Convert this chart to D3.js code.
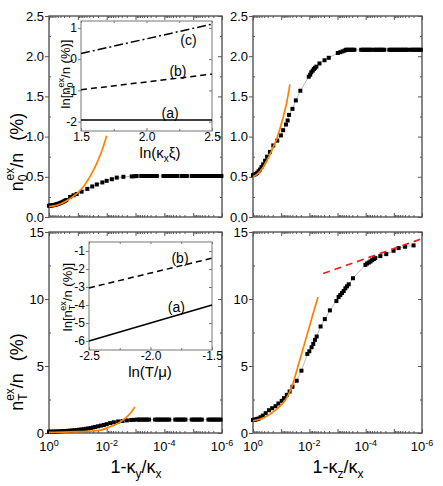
<!DOCTYPE html>
<html lang="en">
<head>
<meta charset="utf-8">
<script src="https://cdn.jsdelivr.net/npm/d3@7"></script>
<style>
  body{ margin:0; background:#fff; }
  text{ font-family:"Liberation Sans", Arial, sans-serif; fill:#000; }
</style>
</head>
<body>
<script>
var width = 443, height = 486;

// x values are decades: point sits at 1-kappa = 10^-dec
var decades = [0, 1, 2, 3, 4, 5, 6];
var xLabelDecades = [0, 2, 4, 6];

// top-left: n0ex/n vs 1-ky/kx
var tlPts = [[0,0.140],[0.04,0.141],[0.08,0.143],[0.12,0.145],[0.16,0.148],[0.2,0.151],[0.24,0.155],[0.28,0.159],
  [0.32,0.164],[0.36,0.169],[0.4,0.175],[0.44,0.181],[0.48,0.188],[0.52,0.195],[0.56,0.203],[0.6,0.211],
  [0.73,0.25],[0.85,0.27],[0.96,0.286],[1.13,0.315],[1.33,0.35],[1.5,0.38],[1.66,0.405],[1.85,0.43],
  [2.0,0.45],[2.18,0.47],[2.35,0.49],[2.58,0.50],[2.87,0.505],[2.97,0.507],[3.04,0.51],
  [3.2,0.51],[3.26,0.51],[3.32,0.51],[3.38,0.51],[3.44,0.51],[3.5,0.51],[3.56,0.51],[3.62,0.51],[3.68,0.51],[3.74,0.51],
  [3.97,0.51],[4.03,0.51],[4.09,0.51],[4.15,0.51],[4.21,0.51],[4.27,0.51],[4.33,0.51],[4.39,0.51],[4.45,0.51],
  [4.6,0.51],[4.66,0.51],[4.72,0.51],[4.78,0.51],
  [4.95,0.51],[5.0,0.51],[5.05,0.51],[5.1,0.51],[5.15,0.51],[5.2,0.51],[5.25,0.51],[5.3,0.51],[5.36,0.51],[5.42,0.51],
  [5.53,0.51],[5.58,0.51],[5.63,0.51],[5.68,0.51],[5.73,0.51],[5.78,0.51],[5.83,0.51],[5.88,0.51],[5.93,0.51],[5.98,0.51]];
var tlFit = [[0,0.13],[0.3,0.15],[0.6,0.2],[0.96,0.29],[1.2,0.38],[1.45,0.52],[1.66,0.67],[1.85,0.84],[2.0,1.01]];

// top-right: n0ex/n vs 1-kz/kx
var trPts = [[0,0.52],[0.05,0.525],[0.1,0.535],[0.15,0.55],[0.2,0.57],[0.25,0.59],[0.3,0.62],[0.36,0.655],
  [0.43,0.70],[0.5,0.75],[0.6,0.81],[0.72,0.89],[0.86,0.95],[0.99,1.015],[1.07,1.08],[1.17,1.15],[1.23,1.2],
  [1.28,1.27],[1.4,1.345],[1.52,1.45],[1.68,1.57],[1.98,1.745],[2.03,1.77],[2.07,1.80],[2.12,1.82],[2.16,1.84],
  [2.2,1.855],[2.25,1.87],[2.36,1.91],[2.54,1.95],[2.69,1.98],[3.01,2.04],[3.1,2.05],[3.18,2.06],[3.25,2.07],
  [3.3,2.08],[3.36,2.08],[3.42,2.08],[3.48,2.08],[3.54,2.08],[3.6,2.08],
  [3.84,2.08],[3.9,2.08],[3.96,2.08],[4.02,2.08],[4.08,2.08],[4.14,2.08],[4.2,2.08],
  [4.3,2.08],[4.36,2.08],[4.42,2.08],[4.48,2.08],[4.54,2.08],[4.6,2.08],[4.66,2.08],
  [4.84,2.08],[4.9,2.08],[4.96,2.08],[5.02,2.08],[5.08,2.08],[5.14,2.08],[5.2,2.08],[5.26,2.08],[5.32,2.08],[5.38,2.08],[5.44,2.08],[5.49,2.08],
  [5.6,2.08],[5.66,2.08],[5.72,2.08],[5.78,2.08],[5.84,2.08],[5.9,2.08],[5.96,2.08]];
var trFit = [[0,0.5],[0.2,0.55],[0.36,0.62],[0.55,0.74],[0.72,0.87],[0.84,0.97],[0.96,1.1],[1.07,1.24],[1.2,1.43],[1.31,1.65]];

// bottom-left: nTex/n vs 1-ky/kx
var blPts = [[0,0.10],[0.08,0.105],[0.16,0.11],[0.24,0.115],[0.32,0.12],[0.4,0.13],[0.48,0.14],[0.56,0.15],
  [0.64,0.16],[0.72,0.175],[0.8,0.19],[0.88,0.205],[0.96,0.22],[1.04,0.24],[1.12,0.26],[1.2,0.28],[1.28,0.31],
  [1.36,0.34],[1.44,0.37],[1.52,0.41],[1.6,0.45],[1.7,0.5],[1.8,0.55],[1.9,0.6],[2.0,0.66],[2.12,0.74],
  [2.25,0.8],[2.4,0.86],[2.55,0.9],[2.7,0.94],[2.85,0.97],[2.93,0.98],
  [3.05,1.0],[3.12,1.0],[3.19,1.0],[3.26,1.0],[3.33,1.0],[3.4,1.0],[3.47,1.0],
  [3.68,1.0],[3.75,1.0],[3.82,1.0],[3.89,1.0],[3.96,1.0],[4.03,1.0],[4.1,1.0],[4.17,1.0],
  [4.38,1.0],[4.45,1.0],[4.52,1.0],[4.59,1.0],[4.66,1.0],[4.73,1.0],
  [4.95,1.0],[5.02,1.0],[5.09,1.0],[5.16,1.0],[5.23,1.0],[5.3,1.0],
  [5.53,1.0],[5.6,1.0],[5.67,1.0],[5.74,1.0],[5.81,1.0],[5.88,1.0],[5.95,1.0]];
var blFit = [[0,0.05],[0.5,0.07],[1.0,0.1],[1.5,0.15],[1.8,0.22],[2.1,0.45],[2.3,0.62],[2.5,0.87],[2.7,1.2],[2.85,1.55],[2.98,1.95]];

// bottom-right: nTex/n vs 1-kz/kx
var brPts = [[0,0.97],[0.04,0.98],[0.08,1.0],[0.12,1.02],[0.16,1.05],[0.2,1.08],[0.27,1.18],[0.35,1.3],
  [0.45,1.48],[0.57,1.7],[0.68,1.85],[0.8,2.0],[0.9,2.2],[1.02,2.4],[1.1,2.6],[1.2,2.85],[1.3,3.1],[1.4,3.45],
  [1.55,3.9],[1.72,4.65],[1.93,5.9],[2.0,6.1],[2.08,6.4],[2.14,6.65],[2.2,6.95],[2.26,7.2],[2.4,7.95],
  [2.55,8.5],[2.73,9.15],[2.96,9.85],[3.04,10.15],[3.1,10.3],[3.16,10.45],[3.22,10.6],[3.28,10.8],[3.34,10.95],
  [3.4,11.1],[3.55,11.55],[3.99,12.55],[4.05,12.65],[4.11,12.72],[4.17,12.8],[4.23,12.9],[4.29,12.98],
  [4.34,13.05],[4.52,13.2],[4.73,13.35],[4.99,13.6],[5.17,13.8],[5.4,13.9],[5.7,14.0]];
var brFit = [[0,0.9],[0.4,1.15],[0.8,1.7],[1.0,2.1],[1.22,2.7],[1.4,3.6],[1.58,4.85],[1.75,6.1],[1.93,7.4],[2.12,8.8],[2.31,10.15]];
var brAsym = [[2.49,11.9],[6.0,14.5]];

// insets
var inTopX = [1.5, 2.5];
var inTopA = [-1.95, -1.95];
var inTopB = [-0.98, -0.48];
var inTopC = [0.18, 1.12];
var inBotX = [-2.5, -1.5];
var inBotA = [-6.0, -4.0];
var inBotB = [-3.05, -1.4];

var svg = d3.select("body").append("svg")
    .attr("width", width)
    .attr("height", height);

var frameColor = "#555";
var orange = "#ff8000";
// plain hyphen instead of the unicode minus d3 puts in
function hy(f){ return function(d){ return f(d).replace("\u2212", "-"); }; }

function panel(c){
    var x = d3.scaleLog().domain([1, 1e-6]).range([c.left, c.right]);
    var y = d3.scaleLinear().domain(c.yDomain).range([c.bottom, c.top]);
    var px = function(d){ return x(Math.pow(10, -d[0])); };
    var py = function(d){ return y(d[1]); };
    var g = svg.append("g");

    var majors = decades.map(function(d){ return Math.pow(10, -d); });
    var minors = x.ticks().filter(function(v){
        return majors.every(function(m){ return Math.abs(v / m - 1) > 1e-6; });
    });

    function ax(axis, tx, ty){
        var a = g.append("g").attr("transform", "translate(" + tx + "," + ty + ")").call(axis);
        a.select(".domain").remove();
        a.selectAll(".tick line").attr("stroke", frameColor).attr("stroke-width", 1);
        a.selectAll(".tick text").style("font-size", "13px").style("font-family", "Liberation Sans, Arial, sans-serif").attr("fill", "#000");
        return a;
    }
    ax(d3.axisBottom(x).tickValues(majors).tickSize(-4).tickFormat(""), 0, c.bottom);
    ax(d3.axisBottom(x).tickValues(minors).tickSize(-2).tickFormat(""), 0, c.bottom);
    ax(d3.axisTop(x).tickValues(majors).tickSize(-4).tickFormat(""), 0, c.top);
    ax(d3.axisTop(x).tickValues(minors).tickSize(-2).tickFormat(""), 0, c.top);
    ax(d3.axisLeft(y).tickValues(c.yMajor).tickSize(4).tickPadding(1).tickFormat(c.yFmt), c.left, 0);
    ax(d3.axisLeft(y).tickValues(c.yMinor).tickSize(-2).tickFormat(""), c.left, 0);
    ax(d3.axisRight(y).tickValues(c.yMajor).tickSize(-4).tickFormat(""), c.right, 0);
    ax(d3.axisRight(y).tickValues(c.yMinor).tickSize(-2).tickFormat(""), c.right, 0);

    g.append("rect")
        .attr("x", c.left).attr("y", c.top)
        .attr("width", c.right - c.left).attr("height", c.bottom - c.top)
        .attr("fill", "none").attr("stroke", frameColor).attr("stroke-width", 1.4);

    if (c.xLabels){
        xLabelDecades.forEach(function(d){
            var t = g.append("text")
                .attr("x", x(Math.pow(10, -d)))
                .attr("y", c.bottom + 18)
                .attr("text-anchor", "middle")
                .style("font-size", "13px");
            t.append("tspan").text("10");
            t.append("tspan").attr("dy", -5).style("font-size", "9px").text(d === 0 ? "0" : "-" + d);
        });
    }

    // thin grey line through the points
    g.append("path")
        .datum(c.pts)
        .attr("d", d3.line().x(px).y(py))
        .attr("fill", "none").attr("stroke", "#aaa").attr("stroke-width", 0.8);

    g.selectAll(".pt")
        .data(c.pts)
        .enter()
        .append("rect")
        .attr("class", "pt")
        .attr("x", function(d){ return px(d) - 2; })
        .attr("y", function(d){ return py(d) - 2; })
        .attr("width", 4).attr("height", 4)
        .attr("fill", "#000");

    g.append("path")
        .datum(c.fit)
        .attr("d", d3.line().curve(d3.curveMonotoneX).x(px).y(py))
        .attr("fill", "none").attr("stroke", orange).attr("stroke-width", 1.7);

    if (c.asym){
        g.append("path")
            .datum(c.asym)
            .attr("d", d3.line().x(px).y(py))
            .attr("fill", "none").attr("stroke", "#ee1c1c").attr("stroke-width", 1.7)
            .attr("stroke-dasharray", "7,5");
    }
    return {x: x, y: y};
}

function inset(c){
    var x = d3.scaleLinear().domain(c.xDomain).range([c.left, c.right]);
    var y = d3.scaleLinear().domain(c.yDomain).range([c.bottom, c.top]);
    var g = svg.append("g");
    g.append("rect")
        .attr("x", c.left).attr("y", c.top)
        .attr("width", c.right - c.left).attr("height", c.bottom - c.top)
        .attr("fill", "#fff").attr("stroke", "#777").attr("stroke-width", 1);

    function ax(axis, tx, ty){
        var a = g.append("g").attr("transform", "translate(" + tx + "," + ty + ")").call(axis);
        a.select(".domain").remove();
        a.selectAll(".tick line").attr("stroke", "#777");
        a.selectAll(".tick text").style("font-size", "12px").style("font-family", "Liberation Sans, Arial, sans-serif").attr("fill", "#000");
        return a;
    }
    ax(d3.axisBottom(x).tickValues(c.xTicks).tickSize(-3).tickPadding(1).tickFormat(hy(d3.format(".1f"))), 0, c.bottom);
    ax(d3.axisBottom(x).tickValues(c.xMinor).tickSize(-2).tickFormat(""), 0, c.bottom);
    ax(d3.axisTop(x).tickValues(c.xTicks.concat(c.xMinor)).tickSize(-2).tickFormat(""), 0, c.top);
    ax(d3.axisLeft(y).tickValues(c.yTicks).tickSize(3).tickPadding(1).tickFormat(hy(d3.format("d"))), c.left, 0);
    ax(d3.axisRight(y).tickValues(c.yTicks).tickSize(-3).tickFormat(""), c.right, 0);

    c.lines.forEach(function(l){
        var pts = c.xVals.map(function(v, i){ return [v, l.vals[i]]; });
        g.append("path")
            .datum(pts)
            .attr("d", d3.line().x(function(d){ return x(d[0]); }).y(function(d){ return y(d[1]); }))
            .attr("fill", "none").attr("stroke", "#000").attr("stroke-width", 1.5)
            .attr("stroke-dasharray", l.dash);
        g.append("text")
            .attr("x", x(l.lx)).attr("y", y(l.ly))
            .attr("text-anchor", "middle")
            .style("font-size", "14px")
            .text(l.label);
    });
    return {x: x, y: y};
}

// ---- panels ----
panel({left: 49, right: 222, top: 16, bottom: 217, yDomain: [0, 2.5],
    yMajor: [0, 0.5, 1.0, 1.5, 2.0, 2.5], yMinor: [0.25, 0.75, 1.25, 1.75, 2.25], yFmt: d3.format(".1f"),
    pts: tlPts, fit: tlFit, xLabels: false});
panel({left: 253, right: 422, top: 16, bottom: 217, yDomain: [0, 2.5],
    yMajor: [0, 0.5, 1.0, 1.5, 2.0, 2.5], yMinor: [0.25, 0.75, 1.25, 1.75, 2.25], yFmt: d3.format(".1f"),
    pts: trPts, fit: trFit, xLabels: false});
panel({left: 49, right: 222, top: 232, bottom: 433, yDomain: [0, 15],
    yMajor: [0, 5, 10, 15], yMinor: [2.5, 7.5, 12.5], yFmt: d3.format("d"),
    pts: blPts, fit: blFit, xLabels: true});
panel({left: 253, right: 422, top: 232, bottom: 433, yDomain: [0, 15],
    yMajor: [0, 5, 10, 15], yMinor: [2.5, 7.5, 12.5], yFmt: d3.format("d"),
    pts: brPts, fit: brFit, asym: brAsym, xLabels: true});

// ---- insets ----
inset({left: 81, right: 212, top: 21, bottom: 131, xDomain: [1.5, 2.5], yDomain: [-2.3, 1.22],
    xTicks: [1.5, 2.0, 2.5], xMinor: [1.75, 2.25], yTicks: [-2, -1, 0, 1], xVals: inTopX,
    lines: [
        {vals: inTopA, dash: null, label: "(a)", lx: 2.18, ly: -1.88},
        {vals: inTopB, dash: "6,4", label: "(b)", lx: 2.24, ly: -0.55},
        {vals: inTopC, dash: "9,3,2,3", label: "(c)", lx: 2.32, ly: 0.46}
    ]});
inset({left: 89, right: 212, top: 242, bottom: 350, xDomain: [-2.5, -1.5], yDomain: [-6.5, -0.5],
    xTicks: [-2.5, -2.0, -1.5], xMinor: [-2.25, -1.75], yTicks: [-6, -5, -4, -3, -2, -1], xVals: inBotX,
    lines: [
        {vals: inBotA, dash: null, label: "(a)", lx: -1.79, ly: -4.4},
        {vals: inBotB, dash: "6,4", label: "(b)", lx: -1.76, ly: -1.68}
    ]});

// ---- axis titles ----
function yTitle(cx, cy, size){
    return svg.append("text")
        .attr("transform", "translate(" + cx + "," + cy + ") rotate(-90)")
        .attr("text-anchor", "middle")
        .style("font-size", size + "px");
}

var t1 = yTitle(23, 152, 18);
t1.append("tspan").text("n");
t1.append("tspan").attr("dy", 4).style("font-size", "12px").text("0");
t1.append("tspan").attr("dx", -6).attr("dy", -13).style("font-size", "12px").text("ex");
t1.append("tspan").attr("dy", 9).text("/n");
t1.append("tspan").attr("dx", 12).text("(%)");

var t2 = yTitle(23, 372, 18);
t2.append("tspan").text("n");
t2.append("tspan").attr("dy", 4).style("font-size", "12px").text("T");
t2.append("tspan").attr("dx", -6).attr("dy", -13).style("font-size", "12px").text("ex");
t2.append("tspan").attr("dy", 9).text("/n");
t2.append("tspan").attr("dx", 12).text("(%)");

var t3 = yTitle(70, 74, 13);
t3.append("tspan").text("ln[n");
t3.append("tspan").attr("dy", 3).style("font-size", "9px").text("0");
t3.append("tspan").attr("dx", -5).attr("dy", -9).style("font-size", "9px").text("ex");
t3.append("tspan").attr("dy", 6).text("/n (%)]");

var t4 = yTitle(72, 297, 13);
t4.append("tspan").text("ln[n");
t4.append("tspan").attr("dy", 3).style("font-size", "9px").text("T");
t4.append("tspan").attr("dx", -5).attr("dy", -9).style("font-size", "9px").text("ex");
t4.append("tspan").attr("dy", 6).text("/n (%)]");

function xTitle(cx, cy, size){
    return svg.append("text").attr("x", cx).attr("y", cy)
        .attr("text-anchor", "middle").style("font-size", size + "px");
}
var x1 = xTitle(136, 473, 18);
x1.append("tspan").text("1-κ");
x1.append("tspan").attr("dy", 5).style("font-size", "12px").text("y");
x1.append("tspan").attr("dy", -5).text("/κ");
x1.append("tspan").attr("dy", 5).style("font-size", "12px").text("x");

var x2 = xTitle(338, 473, 18);
x2.append("tspan").text("1-κ");
x2.append("tspan").attr("dy", 5).style("font-size", "12px").text("z");
x2.append("tspan").attr("dy", -5).text("/κ");
x2.append("tspan").attr("dy", 5).style("font-size", "12px").text("x");

var x3 = xTitle(160, 158, 15);
x3.append("tspan").text("ln(κ");
x3.append("tspan").attr("dy", 4).style("font-size", "10px").text("x");
x3.append("tspan").attr("dy", -4).text("ξ)");

var x4 = xTitle(150, 377, 15);
x4.append("tspan").text("ln(T/μ)");
</script>
</body>
</html>
